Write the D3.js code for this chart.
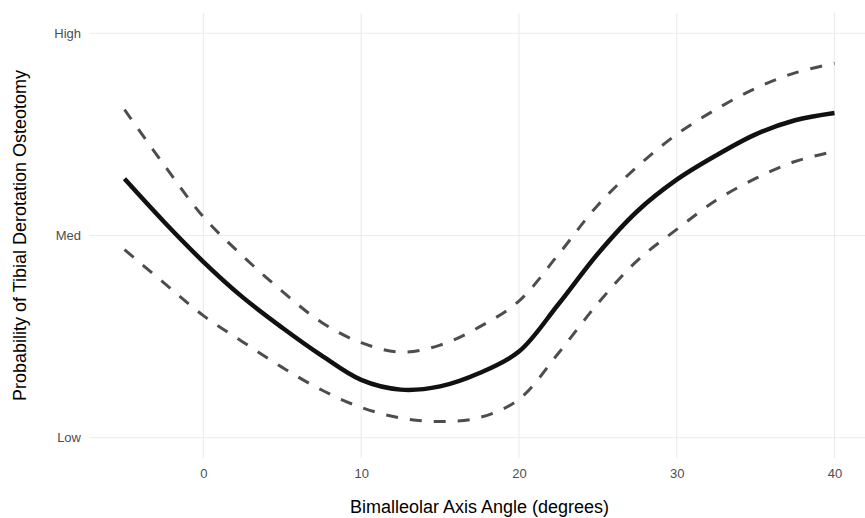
<!DOCTYPE html>
<html>
<head>
<meta charset="utf-8">
<script src="https://cdn.jsdelivr.net/npm/d3@7"></script>
<style>
  body { margin: 0; background: #fff; }
  svg { display: block; font-family: "Liberation Sans", Arial, sans-serif; }
</style>
</head>
<body>
<svg id="chart" width="865" height="518"></svg>
<script>
// angle values (degrees) where the curves were read
const angles = [-5, -2.5, 0, 2.5, 5, 7.5, 10, 12.5, 15, 17.5, 20, 22.5, 25, 27.5, 30, 32.5, 35, 37.5, 40];
// predicted probability (0 = Low, 1 = High)
const fitValues = [0.640, 0.534, 0.435, 0.347, 0.272, 0.203, 0.143, 0.119, 0.127, 0.160, 0.213, 0.330, 0.455, 0.560, 0.638, 0.698, 0.750, 0.785, 0.803];
const upperValues = [0.811, 0.675, 0.546, 0.449, 0.362, 0.285, 0.235, 0.212, 0.229, 0.274, 0.338, 0.453, 0.575, 0.670, 0.750, 0.812, 0.864, 0.902, 0.926];
const lowerValues = [0.465, 0.383, 0.302, 0.237, 0.174, 0.118, 0.075, 0.049, 0.040, 0.050, 0.095, 0.209, 0.332, 0.438, 0.515, 0.587, 0.641, 0.683, 0.708];
const xTicks = [0, 10, 20, 30, 40];
const yTicks = [0, 0.5, 1];
const yTickLabels = ["Low", "Med", "High"];

const svg = d3.select("#chart");
const panel = {l: 89, r: 870, t: 13, b: 458};

// 5% expansion like ggplot
const x = d3.scaleLinear().domain([-7.25, 42.25]).range([panel.l, panel.r]);
const y = d3.scaleLinear().domain([-0.05, 1.05]).range([panel.b, panel.t]);

// grid lines
const grid = svg.append("g").attr("stroke", "#EBEBEB").attr("stroke-width", 1.1);
grid.selectAll(".vg").data(xTicks).enter().append("line")
  .attr("x1", d => x(d)).attr("x2", d => x(d))
  .attr("y1", panel.t).attr("y2", panel.b);
grid.selectAll(".hg").data(yTicks).enter().append("line")
  .attr("x1", panel.l).attr("x2", panel.r)
  .attr("y1", d => y(d)).attr("y2", d => y(d));

// axes (text only, ggplot minimal)
const xAxis = svg.append("g")
  .attr("transform", "translate(0," + (panel.b + 5) + ")")
  .call(d3.axisBottom(x).tickValues(xTicks).tickSize(0).tickPadding(6));
xAxis.select(".domain").remove();
xAxis.selectAll("text").attr("fill", "#4D4D4D").attr("font-size", 13)
  .attr("font-family", "Liberation Sans, Arial, sans-serif");

const yAxis = svg.append("g")
  .attr("transform", "translate(" + (panel.l - 5) + ",0)")
  .call(d3.axisLeft(y).tickValues(yTicks).tickFormat((d, i) => yTickLabels[i]).tickSize(0).tickPadding(3));
yAxis.select(".domain").remove();
yAxis.selectAll("text").attr("fill", "#4D4D4D").attr("font-size", 13)
  .attr("font-family", "Liberation Sans, Arial, sans-serif");

// curves
const line = d3.line().curve(d3.curveCatmullRom.alpha(0.5));
function pts(vals) { return angles.map((a, i) => [x(a), y(vals[i])]); }

svg.append("path").attr("d", line(pts(upperValues)))
  .attr("fill", "none").attr("stroke", "#4D4D4D").attr("stroke-width", 3)
  .attr("stroke-dasharray", "12,12");
svg.append("path").attr("d", line(pts(lowerValues)))
  .attr("fill", "none").attr("stroke", "#4D4D4D").attr("stroke-width", 3)
  .attr("stroke-dasharray", "12,12");
svg.append("path").attr("d", line(pts(fitValues)))
  .attr("fill", "none").attr("stroke", "#111").attr("stroke-width", 4.5);

// axis titles
svg.append("text")
  .attr("x", (panel.l + panel.r) / 2).attr("y", 513)
  .attr("text-anchor", "middle").attr("font-size", 18).attr("fill", "#000")
  .text("Bimalleolar Axis Angle (degrees)");

svg.append("text")
  .attr("transform", "translate(26," + ((panel.t + panel.b) / 2) + ") rotate(-90)")
  .attr("text-anchor", "middle").attr("font-size", 18).attr("fill", "#000")
  .text("Probability of Tibial Derotation Osteotomy");
</script>
</body>
</html>
